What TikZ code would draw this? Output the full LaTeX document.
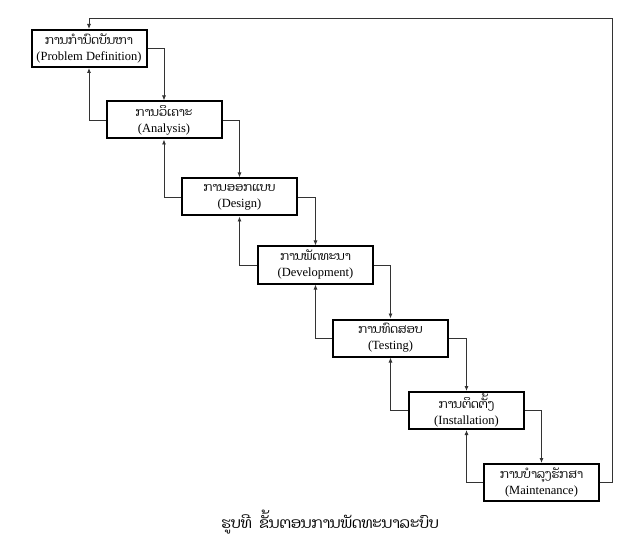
\documentclass[tikz,border=0pt]{standalone}
\usepackage{fontspec}
\setmainfont{Liberation Serif}
\newfontfamily\laofont[Script=Lao]{Dhyana}
\usetikzlibrary{arrows.meta}
\tikzset{
  stage/.style={draw=black, line width=2pt, fill=white, minimum width=115pt, minimum height=37pt,
    inner sep=1pt, align=center, font=\fontsize{12.5}{16}\selectfont},
  link/.style={draw=black!80, line width=0.8pt, -{Latex[length=5pt,width=4pt]}}
}
\newcommand{\lao}[1]{{\laofont\fontsize{12}{16}\selectfont #1}}
\begin{document}
\begin{tikzpicture}[x=1pt,y=-1pt]
\useasboundingbox (0,0) rectangle (640,540);
\node[stage] (b1) at (89,48.5) {\lao{ການກຳນົດບັນຫາ}\\(Problem Definition)};
\node[stage] (b2) at (164,120) {\lao{ການວິເຄາະ}\\(Analysis)};
\node[stage] (b3) at (239.5,197) {\lao{ການອອກແບບ}\\(Design)};
\node[stage] (b4) at (315.5,265) {\lao{ການພັດທະນາ}\\(Development)};
\node[stage] (b5) at (390.5,338) {\lao{ການທົດສອບ}\\(Testing)};
\node[stage] (b6) at (466.5,410.5) {\lao{ການຕິດຕັ້ງ}\\(Installation)};
\node[stage] (b7) at (541.5,482.5) {\lao{ການບຳລຸງຮັກສາ}\\(Maintenance)};
\foreach \a/\b in {b1/b2,b2/b3,b3/b4,b4/b5,b5/b6,b6/b7}{
  \draw[link] (\a.east) -| (\b.north);
  \draw[link] (\b.west) -| (\a.south);
}
\coordinate (tr) at (612,18);
\draw[link] (b7.east) -| (tr) -| (b1.north);
\node[font=\laofont\fontsize{15}{17}\selectfont] (cap) at (330,522) {ຮູບທີ\ \ ຂັ້ນຕອນການພັດທະນາລະບົບ};
\end{tikzpicture}
\end{document}
